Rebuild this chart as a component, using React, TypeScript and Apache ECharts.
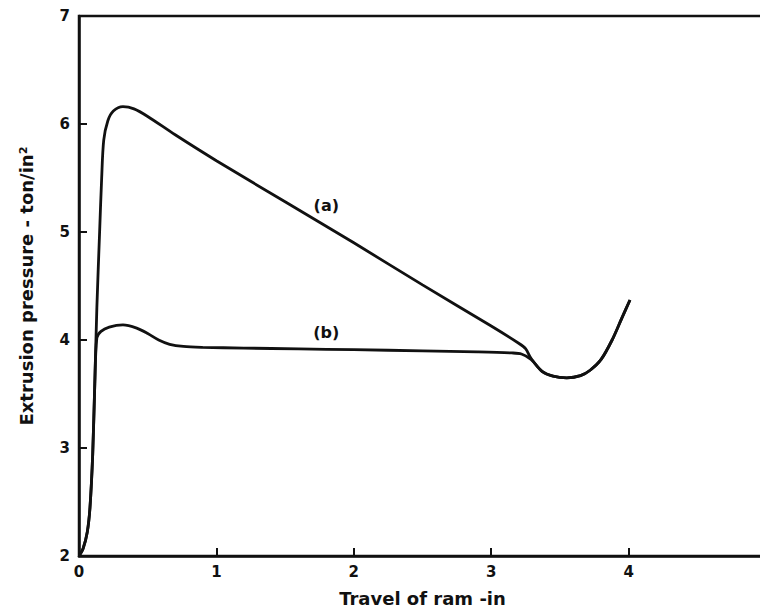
import React, { useEffect, useRef } from "react";
import * as echarts from "echarts";

// Curve (a): travel of ram (in), extrusion pressure (ton/in^2)
const curveA: [number, number][] = [
  [0, 2.0], [0.03, 2.07], [0.06, 2.22], [0.08, 2.45], [0.1, 2.95], [0.115, 3.6],
  [0.13, 4.3], [0.15, 5.0], [0.165, 5.5], [0.18, 5.85], [0.21, 6.03], [0.25, 6.12],
  [0.32, 6.16], [0.4, 6.14], [0.5, 6.07], [0.7, 5.9], [1.0, 5.66], [1.5, 5.28],
  [2.0, 4.9], [2.5, 4.51], [3.0, 4.13], [3.2, 3.97], [3.25, 3.92], [3.29, 3.83],
  [3.37, 3.71], [3.45, 3.665], [3.55, 3.65], [3.65, 3.67], [3.72, 3.72], [3.8, 3.82],
  [3.88, 4.0], [3.95, 4.2], [4.01, 4.37],
];

// Curve (b)
const curveB: [number, number][] = [
  [0, 2.0], [0.03, 2.07], [0.06, 2.22], [0.08, 2.45], [0.1, 2.95], [0.115, 3.6],
  [0.13, 4.02], [0.16, 4.08], [0.22, 4.12], [0.32, 4.14], [0.42, 4.11], [0.5, 4.06],
  [0.58, 4.0], [0.66, 3.96], [0.76, 3.94], [0.9, 3.932], [1.2, 3.925], [1.6, 3.918],
  [2.0, 3.91], [2.5, 3.9], [2.9, 3.89], [3.15, 3.88], [3.22, 3.87], [3.29, 3.82],
  [3.37, 3.71], [3.45, 3.665], [3.55, 3.65], [3.65, 3.67], [3.72, 3.72], [3.8, 3.82],
  [3.88, 4.0], [3.95, 4.2], [4.01, 4.37],
];

const curveLabels = ["(a)", "(b)"];
const curveLabelPos: [number, number][] = [[1.8, 5.25], [1.8, 4.065]];

const xTicks = [0, 1, 2, 3, 4, 5];
const yTicks = [2, 3, 4, 5, 6, 7];

const xName = "Travel of ram -in";
const yName = "Extrusion pressure - ton/in²";

export default function App() {
  const ref = useRef<HTMLDivElement>(null);
  useEffect(() => {
    if (!ref.current) return;
    const chart = echarts.init(ref.current, undefined, { renderer: "svg" });
    const ink = "#111";
    const font = "DejaVu Sans";
    const mkSeries = (name: string, data: [number, number][], idx: number) => ({
      name,
      type: "line",
      data,
      smooth: 0.3,
      symbol: "none",
      lineStyle: { color: ink, width: 2.8 },
      markPoint: {
        symbol: "circle",
        symbolSize: 0,
        data: [
          {
            coord: curveLabelPos[idx],
            label: {
              show: true,
              formatter: curveLabels[idx],
              color: ink,
              fontFamily: font,
              fontWeight: "bold",
              fontSize: 16,
              position: "inside",
            },
          },
        ],
      },
    });
    chart.setOption({
      animation: false,
      backgroundColor: "#fff",
      grid: {
        left: 79,
        top: 16,
        width: 687,
        height: 540,
        containLabel: false,
        outerBoundsMode: "none",
        show: true,
        borderColor: ink,
        borderWidth: 2.5,
      },
      xAxis: {
        type: "value",
        min: xTicks[0],
        max: xTicks[xTicks.length - 1],
        interval: 1,
        name: xName,
        nameLocation: "middle",
        nameGap: 33,
        nameTextStyle: { color: ink, fontFamily: font, fontWeight: "bold", fontSize: 18 },
        axisLine: { show: true, lineStyle: { color: ink, width: 2.5 } },
        axisTick: { show: true, inside: true, length: 8, lineStyle: { color: ink, width: 2 } },
        axisLabel: { color: ink, fontFamily: font, fontWeight: "bold", fontSize: 15, margin: 8 },
        splitLine: { show: false },
      },
      yAxis: {
        type: "value",
        min: yTicks[0],
        max: yTicks[yTicks.length - 1],
        interval: 1,
        name: yName,
        nameLocation: "middle",
        nameGap: 44,
        nameRotate: 90,
        nameTextStyle: { color: ink, fontFamily: font, fontWeight: "bold", fontSize: 18 },
        axisLine: { show: true, lineStyle: { color: ink, width: 2.5 } },
        axisTick: { show: true, inside: true, length: 8, lineStyle: { color: ink, width: 2 } },
        axisLabel: { color: ink, fontFamily: font, fontWeight: "bold", fontSize: 15, margin: 9 },
        splitLine: { show: false },
      },
      series: [mkSeries("a", curveA, 0), mkSeries("b", curveB, 1)],
    });
    return () => chart.dispose();
  }, []);
  return (
    <div
      style={{
        position: "fixed",
        left: 0,
        top: 0,
        width: 760,
        height: 612,
        overflow: "hidden",
        background: "#fff",
      }}
    >
      <div ref={ref} style={{ width: 780, height: 612 }} />
    </div>
  );
}
